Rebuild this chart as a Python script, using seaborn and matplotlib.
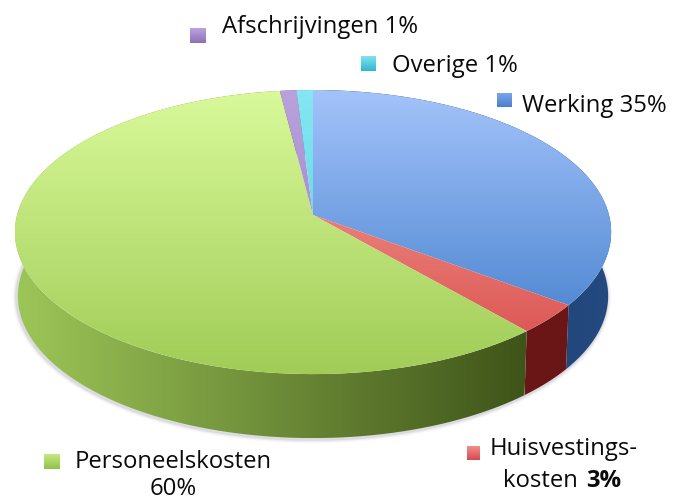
import numpy as np
import matplotlib
matplotlib.use("Agg")
import matplotlib.pyplot as plt
import matplotlib.transforms as mtransforms
from matplotlib.path import Path
import seaborn as sns

# slice order is clockwise from the top; slice sizes,
# the printed percentages are the ones written on it
labels = ["Werking", "Huisvestingskosten", "Personeelskosten", "Afschrijvingen", "Overige"]
values = [35.2, 3.4, 59.4, 1, 1]
printed = [35, 3, 60, 1, 1]

# colours of each slice: top surface (far, near) and side (left, right)
top_colors = [["#a3c3fa", "#3a78c8"], ["#f7a99c", "#d84a4a"], ["#d9f99a", "#a0cc56"],
              ["#b9a2dc", "#9379bd"], ["#86e6f2", "#4cc9de"]]
side_colors = [["#1a3560", "#244a80"], ["#6a1616", "#6a1616"], ["#9dc658", "#3f5419"],
               ["#6a5290", "#6a5290"], ["#2a8a9a", "#2a8a9a"]]
key_colors = [["#7aa5ec", "#4a80cc"], ["#f08f8a", "#d84a50"], ["#c4ea80", "#93c24c"],
              ["#bba3de", "#8f70b8"], ["#7fe3f0", "#35b5d2"]]
# legend squares in pixels: left, right, top, bottom
key_boxes = [[497, 512, 94, 108], [467, 480, 447, 461], [44, 60, 455, 470],
             [190, 206, 29, 44], [361, 376, 57, 72]]

APEX_X, APEX_Y = 313, 216
DEPTH = 64
SHRINK = 0.99
A, B, K = 296, 140, 0.12
DISC_TOP, DISC_BOTTOM = 91, 378


class Perspective(mtransforms.Transform):
    # tilts the flat pie from ax.pie so the apex sits above the disc centre
    input_dims = 2
    output_dims = 2

    def transform_non_affine(self, xy):
        xy = np.asarray(xy)
        d = 1 + K * xy[:, 1]
        return np.column_stack([APEX_X + A * xy[:, 0] / d, APEX_Y - B * xy[:, 1] / d])


sns.set_theme(style="white")
plt.rcParams["font.family"] = ["Open Sans", "DejaVu Sans"]

fig = plt.figure(figsize=(6.83, 5.02), dpi=100)
ax = fig.add_axes([0, 0, 1, 1])

wedges, _ = ax.pie(values, startangle=90, counterclock=False, radius=1,
                   wedgeprops=dict(linewidth=0, facecolor="none"))
persp = Perspective()
for w in wedges:
    w.set_transform(persp + ax.transData)


def rim(t1, t2):
    t = np.radians(np.linspace(t1, t2, 120))
    return persp.transform_non_affine(np.column_stack([np.cos(t), np.sin(t)]))


def lower(pts):
    return np.column_stack([APEX_X + (pts[:, 0] - APEX_X) * SHRINK, pts[:, 1] + DEPTH])


# soft shadow under the front edge
front = lower(rim(170, 370))
for lw, alpha in [(6, 0.04), (4, 0.07), (2.5, 0.1)]:
    ax.plot(front[:, 0] - 1, front[:, 1] + 1, color="#555566", lw=lw, alpha=alpha, zorder=1,
            solid_capstyle="round")

for w, tc, sc in zip(wedges, top_colors, side_colors):
    # side band, shaded left to right
    upper = rim(w.theta1, w.theta2)
    band = np.vstack([upper, lower(upper)[::-1], upper[:1]])
    im = ax.imshow(np.linspace(0, 1, 256).reshape(1, -1), cmap=sns.blend_palette(sc, as_cmap=True),
                   extent=(band[:, 0].min(), band[:, 0].max(), band[:, 1].max(), band[:, 1].min()),
                   aspect="auto", zorder=2, interpolation="bilinear")
    im.set_clip_path(Path(band), ax.transData)
    # top surface, shaded far to near
    im = ax.imshow(np.linspace(0, 1, 256).reshape(-1, 1), cmap=sns.blend_palette(tc, as_cmap=True),
                   extent=(0, 683, DISC_BOTTOM, DISC_TOP), aspect="auto", zorder=3,
                   interpolation="bilinear")
    im.set_clip_path(w)

for box, kc in zip(key_boxes, key_colors):
    ax.imshow(np.linspace(0, 1, 32).reshape(-1, 1), cmap=sns.blend_palette(kc, as_cmap=True),
              extent=(box[0], box[1], box[3], box[2]), aspect="auto", zorder=4)

size = 17.2
txt = dict(color="#0a0a0a", fontsize=size, va="baseline", zorder=5)
ax.text(222, 33, f"{labels[3]} {printed[3]}%", ha="left", **txt)
ax.text(392, 72.5, f"{labels[4]} {printed[4]}%", ha="left", **txt)
ax.text(522, 112.5, f"{labels[0]} {printed[0]}%", ha="left", **txt)
ax.text(490, 455, "Huisvestings-", ha="left", **txt)
ax.text(578, 487, "kosten", ha="right", **txt)
ax.text(586, 487, f"{printed[1]}%", ha="left", fontweight="bold", **txt)
ax.text(173, 468, labels[2], ha="center", **txt)
ax.text(173, 495, f"{printed[2]}%", ha="center", **txt)

ax.set_aspect("auto")
ax.set_xlim(0, 683)
ax.set_ylim(502, 0)
ax.axis("off")

fig.savefig("out.png", dpi=100, facecolor="white")
